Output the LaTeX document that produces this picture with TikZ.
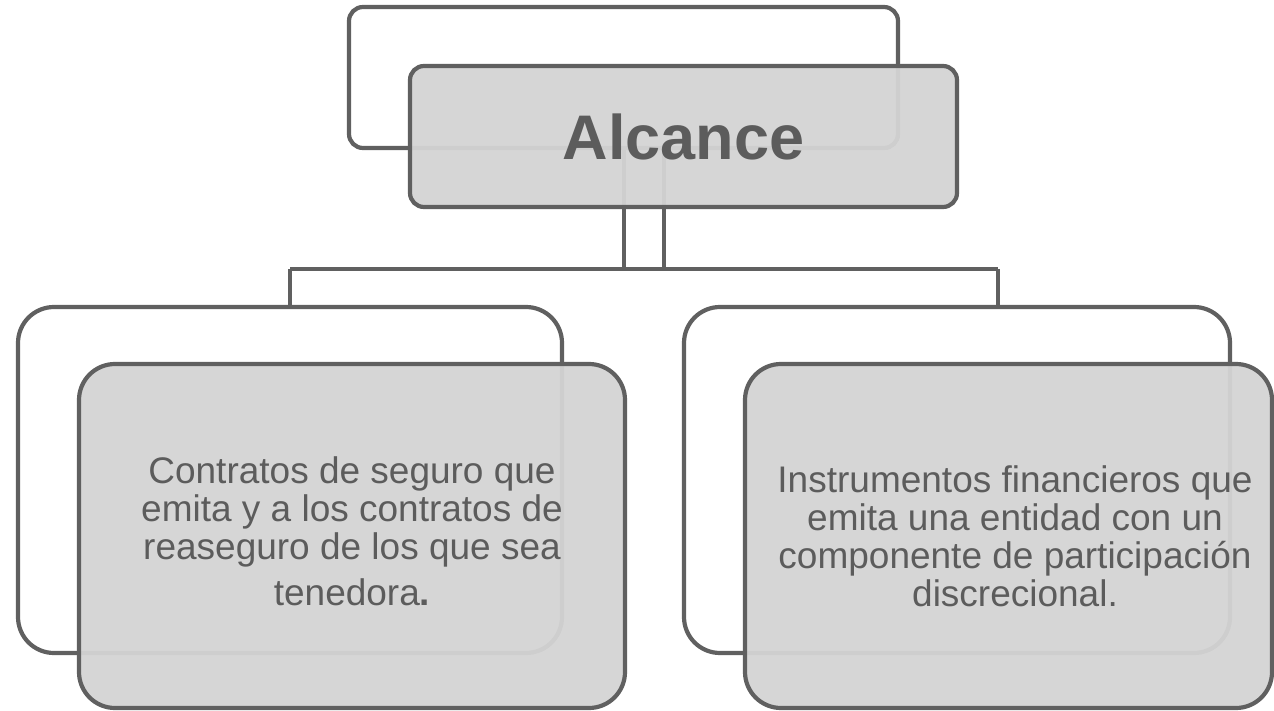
\documentclass[tikz,border=0pt]{standalone}
\usepackage{fontspec}
\setmainfont{Liberation Sans}
\definecolor{edgegray}{HTML}{606060}
\definecolor{boxgray}{HTML}{D4D4D4}
\definecolor{txtgray}{HTML}{5C5C5C}
\begin{document}
\begin{tikzpicture}[x=1pt, y=-1pt,
    back/.style={draw=edgegray, line width=4.2pt, rounded corners=14pt, fill=white, inner sep=0pt},
    front/.style={back, fill=boxgray, fill opacity=0.95},
    backbig/.style={back, rounded corners=36pt, minimum height=346pt},
    frontbig/.style={front, rounded corners=36pt, minimum height=344pt},
    bodytext/.style={text=txtgray, align=center, font=\fontsize{37}{38}\selectfont},
    link/.style={draw=edgegray, line width=4.2pt}]
    \useasboundingbox (0,0) rectangle (1274,711);
    \node[back, minimum width=549pt, minimum height=141pt] (topback) at (623.5,77.5) {};
    \node[backbig, minimum width=544pt] (lback) at (290,480) {};
    \node[backbig, minimum width=546pt] (rback) at (957,480) {};
    \coordinate (hl) at (290,269);
    \coordinate (hr) at (998,269);
    \draw[link] ([xshift=0.5pt]topback.south) -- ([xshift=0.5pt]topback.south |- hl);
    \draw[link] ([xshift=40.5pt]topback.south) -- ([xshift=40.5pt]topback.south |- hl);
    \draw[link] (hl) -- (hr);
    \draw[link] (hl) -- (hl |- lback.north);
    \draw[link] (hr) -- (hr |- rback.north);
    \node[front, minimum width=547pt, minimum height=141pt, text=txtgray, text opacity=1,
        font=\fontsize{63}{63}\selectfont\bfseries] (alcance) at (683.5,136.5) {Alcance};
    \node[frontbig, minimum width=546pt] (lfront) at (352,536) {};
    \node[frontbig, minimum width=527pt] (rfront) at (1008.5,536) {};
    \node[bodytext] (ltext) at (352,531) {Contratos de seguro que\\ emita y a los contratos de\\ reaseguro de los que sea\\[8pt] tenedora{\bfseries .}};
    \node[bodytext] (rtext) at (1015,536) {Instrumentos financieros que\\ emita una entidad con un\\ componente de participación\\ discrecional.};
\end{tikzpicture}
\end{document}
